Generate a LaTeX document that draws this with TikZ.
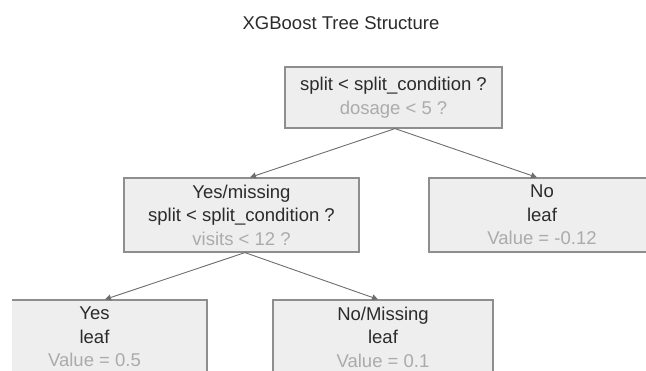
\documentclass[tikz,border=0pt]{standalone}
\usepackage{fontspec}
\setmainfont{Liberation Sans}
\usetikzlibrary{arrows.meta}
\definecolor{boxfill}{HTML}{EEEEEE}
\definecolor{boxline}{HTML}{8E8E8E}
\definecolor{inktext}{HTML}{2B2B2B}
\definecolor{softtext}{HTML}{ABABAB}
\definecolor{linkline}{HTML}{6E6E6E}
\begin{document}
\begin{tikzpicture}[x=1pt,y=-1pt,
  treebox/.style={draw=boxline, line width=1.2pt, fill=boxfill, rectangle,
    inner sep=0pt, align=center, text=inktext,
    font=\fontsize{18.5}{23.5}\selectfont},
  link/.style={draw=linkline, line width=0.9pt,
    -{Triangle[length=6pt,width=6pt]}}]
\useasboundingbox (0,0) rectangle (646,371);
\fill[white] (0,0) rectangle (646,371);

% heading
\node[font=\fontsize{18.5}{22}\selectfont, text=inktext] (title) at (341,23)
  {XGBoost Tree Structure};

\begin{scope}
\clip (12,0) rectangle (646,371);

% decision nodes
\node[treebox, minimum width=217pt, minimum height=61pt] (root) at (393.5,97.5)
  {split < split\_condition ?\\\textcolor{softtext}{dosage < 5 ?}};
\node[treebox, minimum width=235pt, minimum height=74pt] (ml) at (241.5,215)
  {Yes/missing\\split < split\_condition ?\\\textcolor{softtext}{visits < 12 ?}};

% leaves
\node[treebox, minimum width=226pt, minimum height=74pt] (nr) at (542,215)
  {No\\leaf\\\textcolor{softtext}{Value = -0.12}};
\node[treebox, minimum width=225pt, minimum height=74pt] (bl) at (94.5,337)
  {Yes\\leaf\\\textcolor{softtext}{Value = 0.5}};
\node[treebox, minimum width=220pt, minimum height=74pt] (br) at (383,337)
  {No/Missing\\leaf\\\textcolor{softtext}{Value = 0.1}};
\end{scope}

% branches
\draw[link] ([xshift=1.5pt]root.south) -- ([xshift=8.5pt]ml.north);
\draw[link] ([xshift=1.5pt]root.south) -- ([xshift=-5pt]nr.north);
\draw[link] ([xshift=3.5pt]ml.south) -- ([xshift=10.5pt]bl.north);
\draw[link] ([xshift=3.5pt]ml.south) -- ([xshift=-5pt]br.north);
\end{tikzpicture}
\end{document}
